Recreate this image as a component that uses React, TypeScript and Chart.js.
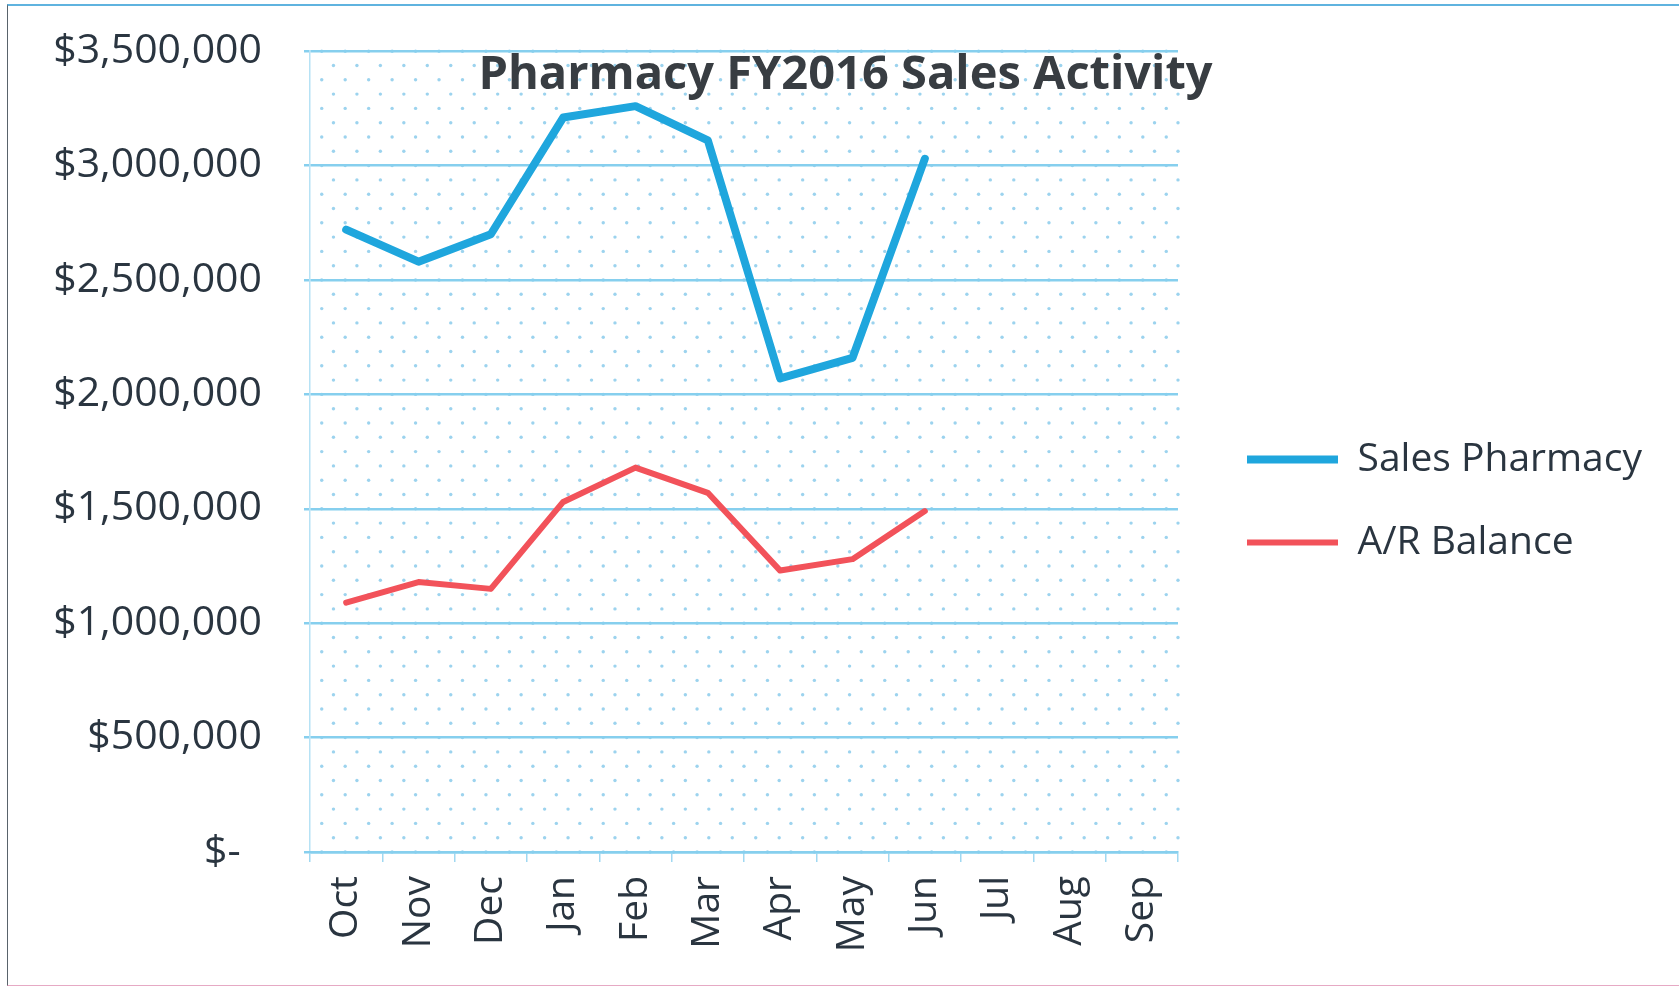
import React, { useEffect, useRef } from "react";
import { Chart, registerables } from "chart.js";

Chart.register(...registerables);

const months = ["Oct", "Nov", "Dec", "Jan", "Feb", "Mar", "Apr", "May", "Jun", "Jul", "Aug", "Sep"];
const salesPharmacy = [2720000, 2580000, 2700000, 3210000, 3260000, 3110000, 2070000, 2160000, 3030000, null, null, null];
const arBalance = [1090000, 1180000, 1150000, 1530000, 1680000, 1570000, 1230000, 1280000, 1490000, null, null, null];
const yMin = 0;
const yMax = 3500000;
const yStep = 500000;
const chartTitle = "Pharmacy FY2016 Sales Activity";
const seriesNames = ["Sales Pharmacy", "A/R Balance"];

const FONT = "'Open Sans', 'Noto Sans', sans-serif";
const TEXT = "#2a3540";

function fmt(v: number): string {
  if (v === 0) return "$-  ";
  return "$" + v.toLocaleString("en-US");
}

const decor = {
  id: "decor",
  beforeDraw(chart: any) {
    const { ctx, chartArea: a, scales } = chart;
    const y = scales.y;
    ctx.save();
    ctx.fillStyle = "rgba(90,182,226,0.6)";
    const colW = (a.right - a.left) / 37;
    let row = 0;
    for (let v = yMin; v <= yMax; v += yStep / 8) {
      const py = y.getPixelForValue(v);
      const off = (row % 2) * colW / 2;
      for (let px = a.left + colW / 2 + off; px < a.right; px += colW) {
        ctx.beginPath();
        ctx.arc(px, py, 1.7, 0, Math.PI * 2);
        ctx.fill();
      }
      row++;
    }
    ctx.restore();
  },
  afterDraw(chart: any) {
    const { ctx, chartArea: a } = chart;
    ctx.save();
    ctx.font = "bold 47px " + FONT;
    ctx.fillStyle = "#383d42";
    ctx.textAlign = "center";
    ctx.textBaseline = "middle";
    ctx.fillText(chartTitle, chart.width / 2 + 6, a.top + 24);
    ctx.restore();
  },
};

export default function App() {
  const ref = useRef<HTMLCanvasElement>(null);
  useEffect(() => {
    const chart = new Chart(ref.current!, {
      type: "line",
      data: {
        labels: months,
        datasets: [
          {
            label: seriesNames[0],
            data: salesPharmacy,
            borderColor: "#1fa6dd",
            backgroundColor: "#1fa6dd",
            borderWidth: 8,
            pointRadius: 0,
            tension: 0,
            borderCapStyle: "round",
            borderJoinStyle: "round",
          },
          {
            label: seriesNames[1],
            data: arBalance,
            borderColor: "#f2525a",
            backgroundColor: "#f2525a",
            borderWidth: 6,
            pointRadius: 0,
            tension: 0,
            borderCapStyle: "round",
            borderJoinStyle: "round",
          },
        ],
      },
      options: {
        animation: false,
        responsive: true,
        maintainAspectRatio: false,
        layout: { padding: { top: 30, left: 0, right: 27, bottom: 18 } },
        plugins: {
          title: { display: false },
          tooltip: { enabled: false },
          legend: {
            position: "right",
            align: "center",
            maxWidth: 457,
            labels: {
              usePointStyle: true,
              pointStyle: "line",
              pointStyleWidth: 91,
              boxHeight: 6,
              padding: 44,
              color: TEXT,
              font: { family: FONT, size: 39 },
            },
          },
        },
        scales: {
          x: {
            offset: true,
            grid: {
              offset: true,
              drawOnChartArea: false,
              drawTicks: true,
              tickLength: 10,
              color: "rgba(120,200,235,0.7)",
              lineWidth: 1.5,
            },
            border: { display: true, color: "#86cfee", width: 2.5 },
            ticks: {
              color: TEXT,
              font: { family: FONT, size: 39 },
              minRotation: 90,
              maxRotation: 90,
              padding: 14,
              autoSkip: false,
            },
            afterFit(s: any) {
              s.height = 120;
            },
          },
          y: {
            min: yMin,
            max: yMax,
            grid: {
              color: "#86cfee",
              lineWidth: 2.5,
              drawTicks: true,
              tickLength: 6,
            },
            border: { display: true, color: "rgba(134,207,238,0.6)", width: 1.5 },
            ticks: {
              stepSize: yStep,
              color: TEXT,
              font: { family: FONT, size: 41, lineHeight: 0.45 },
              padding: 42,
              callback: (v: any) => fmt(Number(v)),
            },
            afterFit(s: any) {
              s.width = 310;
            },
          },
          gap: {
            position: "right",
            display: true,
            grid: { display: false, drawTicks: false },
            border: { display: false },
            ticks: { display: false },
            afterFit(s: any) {
              s.width = 25;
            },
          },
        },
      },
      plugins: [decor],
    } as any);
    return () => chart.destroy();
  }, []);

  return (
    <div
      style={{
        position: "fixed",
        left: 0,
        top: 0,
        width: 1679,
        height: 990,
        background: "#fff",
      }}
    >
      <div
        style={{
          position: "absolute",
          left: 7,
          top: 4,
          right: 0,
          bottom: 4,
          borderTop: "2px solid #5fb3df",
          borderLeft: "1px solid #59636b",
          borderBottom: "1px solid #e6a9c4",
          pointerEvents: "none",
        }}
      />
      <div style={{ position: "absolute", left: 0, top: 0, width: 1679, height: 990 }}>
        <canvas ref={ref} />
      </div>
    </div>
  );
}
